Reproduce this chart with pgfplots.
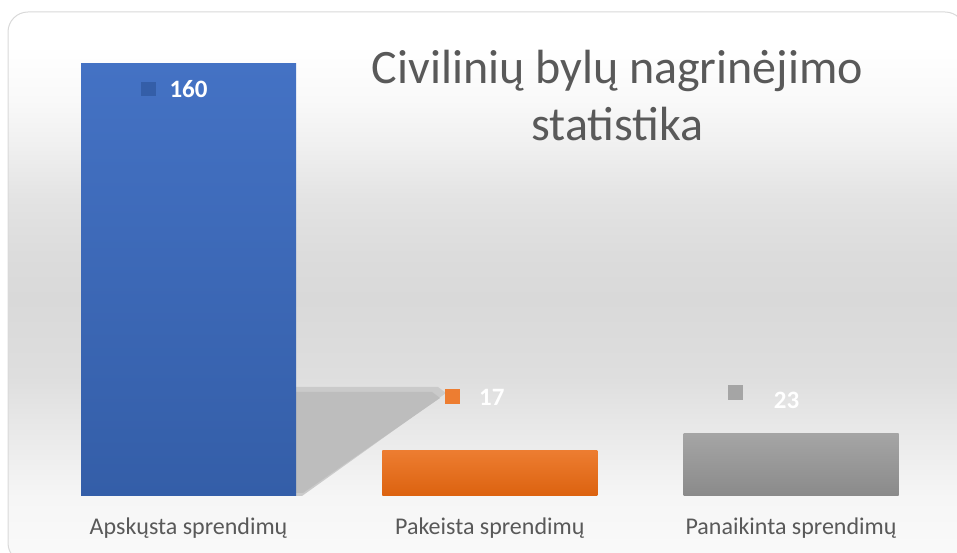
\documentclass[border=0pt]{standalone}
\usepackage{pgfplots}
\pgfplotsset{compat=1.18}
\usepackage{fontspec}
\setmainfont{Carlito}
\definecolor{txt}{HTML}{595959}
\definecolor{bordercol}{HTML}{D9D9D9}
\definecolor{shadowcol}{HTML}{BDBDBD}
\definecolor{blueT}{HTML}{4472C4}
\definecolor{blueB}{HTML}{345EA8}
\definecolor{orT}{HTML}{ED7D31}
\definecolor{orB}{HTML}{DC620F}
\definecolor{grT}{HTML}{A5A5A5}
\definecolor{grB}{HTML}{8A8A8A}
\definecolor{b0}{HTML}{FAFAFA}
\definecolor{b1}{HTML}{F6F6F6}
\definecolor{b2}{HTML}{EBEBEB}
\definecolor{b3}{HTML}{DEDEDE}
\definecolor{b4}{HTML}{D9D9D9}
\definecolor{b5}{HTML}{DCDCDC}
\definecolor{b6}{HTML}{E3E3E3}
\definecolor{b7}{HTML}{F0F0F0}
\definecolor{b8}{HTML}{F9F9F9}
\definecolor{b9}{HTML}{FFFFFF}
\pgfdeclareverticalshading{bgshade}{100bp}{color(0bp)=(b0); color(25bp)=(b0); color(31bp)=(b1); color(36bp)=(b2); color(42bp)=(b3); color(49bp)=(b4); color(53bp)=(b5); color(58bp)=(b6); color(63bp)=(b7); color(67bp)=(b8); color(72bp)=(b9); color(100bp)=(b9)}
\begin{document}
\begin{tikzpicture}
\useasboundingbox (0pt,0pt) rectangle (957pt,553pt);
\begin{scope}
\clip (0pt,0pt) rectangle (957pt,553pt);
\shade[shading=bgshade, draw=bordercol, line width=1pt, rounded corners=20pt] (8pt,-10pt) rectangle (965pt,541pt);
\end{scope}
\fill[shadowcol!80!white] (296pt,166pt) -- (438pt,166pt) -- (446pt,160pt) -- (302pt,57pt) -- (296pt,57pt) -- cycle;
\fill[shadowcol] (296pt,161pt) -- (432pt,161pt) -- (440pt,155pt) -- (303pt,60pt) -- (296pt,60pt) -- cycle;
\node[font=\fontsize{48}{56}\selectfont, text=txt, anchor=base, inner sep=0pt] at (617.5pt,469.7pt) {Civilinių bylų nagrinėjimo};
\node[font=\fontsize{48}{56}\selectfont, text=txt, anchor=base, inner sep=0pt] at (617.5pt,412.3pt) {statistika};
\begin{axis}[
  at={(37.9pt,57pt)}, anchor=south west,
  scale only axis, width=903.75pt, height=432pt,
  xmin=-0.5, xmax=2.5, ymin=0, ymax=160,
  axis line style={draw=none}, major tick length=0pt,
  ytick=\empty, xtick={0,1,2},
  xticklabels={Apskųsta sprendimų, Pakeista sprendimų, Panaikinta sprendimų},
  every x tick label/.append style={font=\fontsize{24}{28}\selectfont, text=txt, anchor=base, yshift=-39pt},
  clip=false,
  every node near coord/.append style={font=\bfseries\fontsize{25}{30}\selectfont, text=white, anchor=center},
]
\addplot[ybar, bar width=215pt, bar shift=0pt, draw=none, top color=blueT, bottom color=blueB,
  nodes near coords={\llap{\textcolor{blueB}{\rule[1pt]{15pt}{14pt}}\hspace{14pt}}160},
  nodes near coords style={yshift=-25pt}] coordinates {(0,160)};
\addplot[ybar, bar width=215pt, bar shift=0pt, draw=none, top color=orT, bottom color=orB,
  nodes near coords={\llap{\textcolor{orT}{\rule[2pt]{15pt}{15pt}}\hspace{19pt}}17},
  nodes near coords style={yshift=53pt, xshift=2pt}] coordinates {(1,17)};
\addplot[ybar, bar width=215pt, bar shift=0pt, draw=none, top color=grT, bottom color=grB,
  nodes near coords={\llap{\textcolor{grT}{\rule[8pt]{15pt}{15pt}}\hspace{31pt}}23},
  nodes near coords style={yshift=37pt, xshift=-4.5pt}] coordinates {(2,23)};
\end{axis}
\end{tikzpicture}
\end{document}
